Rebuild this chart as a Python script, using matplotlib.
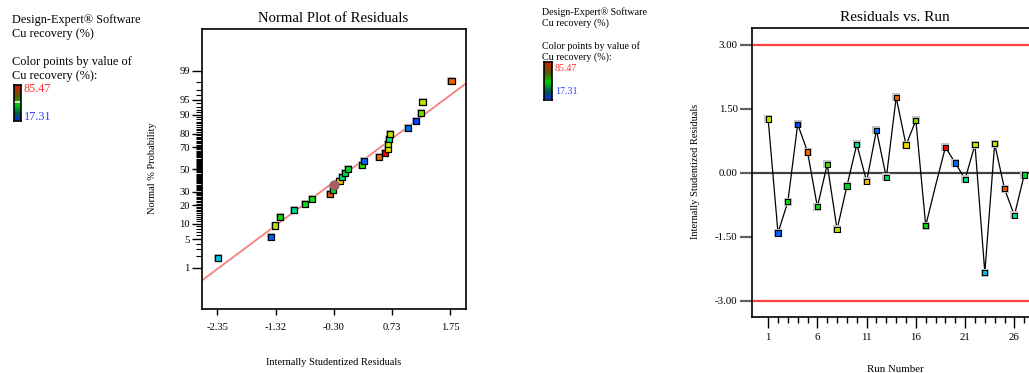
import numpy as np
import matplotlib
matplotlib.use('Agg')
import matplotlib.pyplot as plt
from matplotlib.colors import LinearSegmentedColormap
from statistics import NormalDist

# residuals by run order (run 18 is the highlighted point)
runs = np.arange(1, 28)
residuals = [1.26, -1.41, -0.68, 1.14, 0.49, -0.80, 0.20, -1.33, -0.31, 0.67,
             -0.20, 1.00, -0.11, 1.77, 0.65, 1.23, -1.24, -0.30, 0.60, 0.23,
             -0.15, 0.66, -2.34, 0.68, -0.375, -1.00, -0.05]
# Cu recovery (%) per run, only used for colouring
cu_recovery = [59.6, 19.4, 48.0, 17.31, 75.9, 47.3, 51.4, 58.2, 45.9, 37.8,
               69.1, 20.7, 41.9, 76.6, 65.0, 54.8, 47.3, 53.4, 85.47, 20.0,
               39.1, 60.9, 27.5, 60.3, 77.3, 36.4, 44.6]
highlight_run = 18
cu_min, cu_max = 17.31, 85.47

prob_major = [1, 5, 10, 20, 30, 50, 70, 80, 90, 95, 99]
normal_xticks = [-2.35, -1.325, -0.30, 0.725, 1.75]
normal_xticklabels = ['-2.35', '-1.32', '-0.30', '0.73', '1.75']
run_yticks = [3.0, 1.5, 0.0, -1.5, -3.0]
run_xticks = [1, 6, 11, 16, 21, 26]

W, H = 1029, 373
SERIF = ['Liberation Serif', 'DejaVu Serif']
plt.rcParams['font.family'] = SERIF


def fx(x):
    return x / W


def fy(y):
    return 1 - y / H


point_cmap = LinearSegmentedColormap.from_list('de', [
    (0.00, (0/255, 70/255, 1.0)),
    (0.15, (0/255, 200/255, 225/255)),
    (0.30, (0/255, 225/255, 140/255)),
    (0.42, (0/255, 215/255, 30/255)),
    (0.50, (60/255, 220/255, 0)),
    (0.60, (180/255, 225/255, 0)),
    (0.68, (225/255, 230/255, 0)),
    (0.76, (250/255, 190/255, 0)),
    (0.87, (235/255, 100/255, 0)),
    (1.00, (250/255, 0, 0)),
])
legend_cmap = LinearSegmentedColormap.from_list('bar', [
    (0.0, (0.05, 0.2, 0.85)),
    (0.2, (0.0, 0.35, 0.3)),
    (0.45, (0.0, 0.8, 0.0)),
    (0.7, (0.35, 0.35, 0.0)),
    (1.0, (0.9, 0.1, 0.0)),
])

res = np.array(residuals)
cu = np.array(cu_recovery)
colors = point_cmap((cu - cu_min) / (cu_max - cu_min))
is_hl = runs == highlight_run

fig = plt.figure(figsize=(W / 100, H / 100), dpi=100)


def legend_block(x, y0, lh, gap, fs, bar, label_y, marker=None):
    fig.text(fx(x), fy(y0), 'Design-Expert® Software', fontsize=fs, va='center')
    fig.text(fx(x), fy(y0 + lh), 'Cu recovery (%)', fontsize=fs, va='center')
    fig.text(fx(x), fy(y0 + lh + gap), 'Color points by value of', fontsize=fs, va='center')
    fig.text(fx(x), fy(y0 + 2 * lh + gap), 'Cu recovery (%):', fontsize=fs, va='center')
    bx0, bx1, by0, by1 = bar
    cax = fig.add_axes([fx(bx0), fy(by1), fx(bx1 - bx0), (by1 - by0) / H])
    cax.imshow(np.linspace(1, 0, 100)[:, None], aspect='auto', cmap=legend_cmap,
               extent=(0, 1, 0, 1))
    if marker is not None:
        cax.axhline(marker, color='white', lw=1.2)
    cax.set_xticks([])
    cax.set_yticks([])
    for s in cax.spines.values():
        s.set_linewidth(1.2)
    fig.text(fx(bx1 + 3), fy(label_y[0]), f'{cu_max:.2f}', color='#ff3030', fontsize=fs, va='center')
    fig.text(fx(bx1 + 3), fy(label_y[1]), f'{cu_min:.2f}', color='#3040ff', fontsize=fs, va='center')


legend_block(12, 20, 14, 28, 8.8, (14, 21, 85, 121), (89, 117.5),
             marker=(cu[is_hl][0] - cu_min) / (cu_max - cu_min))
legend_block(542, 11.7, 11, 23, 7.2, (544, 552, 62, 99.5), (68.7, 91.3))

# ---- normal plot of residuals ----
nd = NormalDist()
n = len(res)
order = np.argsort(res, kind='stable')
z = np.array([nd.inv_cdf((i + 0.5) / n) for i in range(n)])
sx = res[order]
scol = colors[order]
shl = is_hl[order]

ax1 = fig.add_axes([fx(202.3), fy(309.3), fx(465.7 - 202.3), (309.3 - 29.3) / H])
xl = (-2.614, 2.02)
ax1.set_xlim(xl)
ax1.set_ylim(-3.3, 3.3)
ax1.plot(xl, xl, color='#f58080', lw=1.3, zorder=2)
ax1.scatter(sx[~shl], z[~shl], marker='s', s=34, color='#c4c4c4', lw=0, zorder=3)
ax1.scatter(sx[~shl], z[~shl], marker='s', s=19, c=scol[~shl], edgecolors='black',
            linewidths=0.9, zorder=4)
ax1.scatter(sx[shl], z[shl], marker='o', s=42, color='#b85a5a', edgecolors='#707070',
            linewidths=0.9, zorder=5)
ax1.set_yticks([nd.inv_cdf(p / 100) for p in prob_major])
ax1.set_yticklabels([str(p) for p in prob_major])
ax1.set_yticks([nd.inv_cdf(p / 100) for p in range(1, 100) if p not in prob_major], minor=True)
ax1.set_xticks(normal_xticks)
ax1.set_xticklabels(normal_xticklabels)
ax1.tick_params(axis='y', which='major', length=7, width=1, labelsize=7.6, pad=2)
ax1.tick_params(axis='y', which='minor', length=4, width=0.8)
ax1.tick_params(axis='x', length=4, width=1, labelsize=7.6, pad=6)
for s in ax1.spines.values():
    s.set_linewidth(1.2)
fig.text(fx(333.5), fy(19), 'Normal Plot of Residuals', fontsize=10.6, ha='center', va='center')
fig.text(fx(152.7), fy(168), 'Normal % Probability', fontsize=7.5, rotation=90,
         ha='center', va='center')
fig.text(fx(333.5), fy(362.3), 'Internally Studentized Residuals', fontsize=7.5,
         ha='center', va='center')

# ---- residuals vs. run ----
ax2 = fig.add_axes([fx(751.5), fy(317.3), fx(1038.3 - 751.5), (317.3 - 28.3) / H])
ax2.set_xlim(-0.69, 28.43)
ax2.set_ylim(-3.39, 3.39)
ax2.axhline(3.0, color='#ff4040', lw=1.6, zorder=1)
ax2.axhline(-3.0, color='#ff4040', lw=1.6, zorder=1)
ax2.axhline(0.0, color='#404040', lw=1.6, zorder=1)
ax2.plot(runs, res, color='black', lw=0.9, zorder=2)
ax2.scatter(runs[~is_hl], res[~is_hl], marker='s', s=28, color='#c4c4c4', lw=0, zorder=3)
ax2.scatter(runs[~is_hl], res[~is_hl], marker='s', s=14, c=colors[~is_hl], edgecolors='black',
            linewidths=0.8, zorder=4)
ax2.set_yticks(run_yticks)
ax2.set_yticklabels([f'{v:.2f}' for v in run_yticks])
ax2.set_xticks(run_xticks)
ax2.set_xticks(runs, minor=True)
ax2.tick_params(axis='y', length=9, width=1.6, color='#606060', labelsize=7.8, pad=1)
ax2.tick_params(axis='x', which='major', length=8, width=1, labelsize=7.8, pad=3)
ax2.tick_params(axis='x', which='minor', length=4, width=1)
for s in ax2.spines.values():
    s.set_linewidth(1.2)
fig.text(fx(895), fy(17.7), 'Residuals vs. Run', fontsize=11, ha='center', va='center')
fig.text(fx(695.7), fy(171.7), 'Internally Studentized Residuals', fontsize=7.5, rotation=90,
         ha='center', va='center')
fig.text(fx(895), fy(369.5), 'Run Number', fontsize=7.8, ha='center', va='center')

fig.savefig('out.png', dpi=100)
